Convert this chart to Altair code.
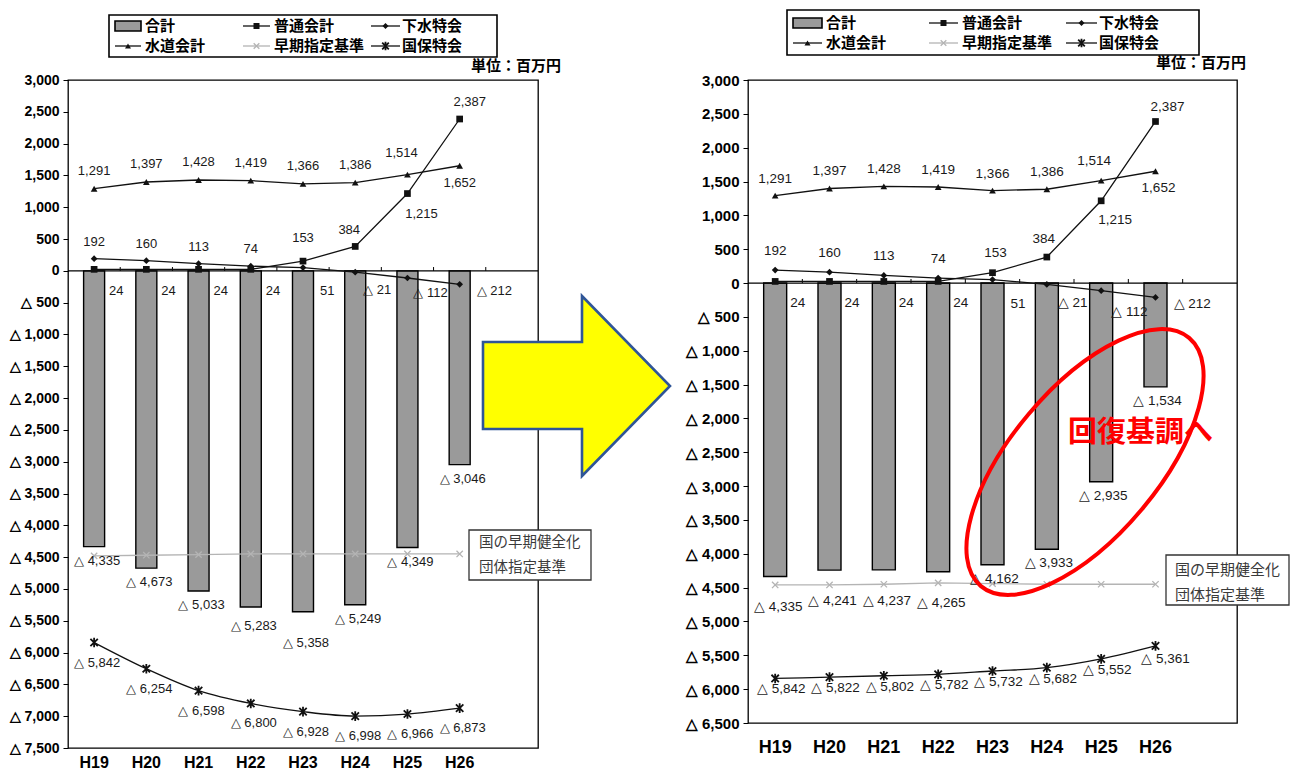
import altair as alt
import pandas as pd

# ---------------- data ----------------
years = ["H19", "H20", "H21", "H22", "H23", "H24", "H25", "H26"]
futsu = [24, 24, 24, 24, 153, 384, 1215, 2387]            # 普通会計
gesui = [192, 160, 113, 74, 51, -21, -112, -212]           # 下水特会
suido = [1291, 1397, 1428, 1419, 1366, 1386, 1514, 1652]   # 水道会計
total_before = [-4335, -4673, -5033, -5283, -5358, -5249, -4349, -3046]
total_after = [-4335, -4241, -4237, -4265, -4162, -3933, -2935, -1534]
kokuho_before = [-5842, -6254, -6598, -6800, -6928, -6998, -6966, -6873]
kokuho_after = [-5842, -5822, -5802, -5782, -5732, -5682, -5552, -5361]
kijun_before = [-4480, -4470, -4460, -4450, -4450, -4450, -4450, -4450]
kijun_after = [-4460, -4460, -4450, -4430, -4440, -4450, -4450, -4450]

legend_labels = ["合計", "普通会計", "下水特会", "水道会計", "早期指定基準", "国保特会"]
unit_text = "単位：百万円"
box_lines = ["国の早期健全化", "団体指定基準"]
callout = "回復基調へ"

# ---------------- style ----------------
NUM = "Liberation Sans, Arial, sans-serif"
JP = "Noto Sans CJK JP, sans-serif"
BAR_FILL = "#9a9a9a"
STAR = "M-1,-1L1,1M-1,1L1,-1M0,-1.3L0,1.3"
XMARK = "M-1,-1L1,1M-1,1L1,-1"
STYLE = {
    "普通会計": dict(color="#111111", shape="square", size=45, filled=True, sw=1),
    "下水特会": dict(color="#111111", shape="diamond", size=45, filled=True, sw=1),
    "水道会計": dict(color="#111111", shape="triangle-up", size=45, filled=True, sw=1),
    "早期指定基準": dict(color="#b4b4b4", shape=XMARK, size=40, filled=False, sw=1.3),
    "国保特会": dict(color="#111111", shape=STAR, size=55, filled=False, sw=1.8),
}

one = pd.DataFrame({"k": [0]})


def fmt(v):
    return f"{v:,}" if v >= 0 else f"△ {-v:,}"


def panel(total, kokuho, kijun, ymin, W, H, geo):
    rows = []
    for name, vals in [("合計", total), ("普通会計", futsu), ("下水特会", gesui),
                       ("水道会計", suido), ("早期指定基準", kijun), ("国保特会", kokuho)]:
        for yr, v in zip(years, vals):
            rows.append({"year": yr, "series": name, "value": v, "label": fmt(v)})
    df = pd.DataFrame(rows)

    def sub(name, ys=None):
        d = df[df.series == name]
        if ys is not None:
            d = d[d.year.isin(ys)]
        return d

    X = alt.X("year:N",
              scale=alt.Scale(type="band", domain=years + [" "], paddingInner=0, paddingOuter=0),
              axis=alt.Axis(title=None, domain=False, ticks=False, labelAngle=0, labelFont=NUM,
                            labelFontSize=geo["xfs"], labelFontWeight="bold", labelColor="black",
                            labelPadding=geo["xpad"]))
    Y = alt.Y("value:Q",
              scale=alt.Scale(domain=[ymin, 3000], nice=False, zero=False),
              axis=alt.Axis(title=None, values=list(range(3000, ymin - 1, -500)), grid=False,
                            domain=False, ticks=True, tickColor="black", tickSize=5, tickWidth=1,
                            labelOverlap=False, labelBound=False, labelFlush=False,
                            labelExpr="datum.value < 0 ? '△ ' + format(-datum.value, ',') : format(datum.value, ',')",
                            labelFont=NUM, labelFontSize=geo["yfs"], labelFontWeight="bold",
                            labelColor="black", labelPadding=4))

    layers = []
    # bars
    layers.append(alt.Chart(sub("合計")).mark_bar(size=geo["bar"], fill=BAR_FILL, stroke="black",
                                                  strokeWidth=1.4).encode(x=X, y=Y, y2=alt.Y2(datum=0)))
    # zero line and small ticks between categories
    zero = pd.DataFrame({"value": [0]})
    layers.append(alt.Chart(zero).mark_rule(color="black", strokeWidth=1.3).encode(y=Y))
    bnd = pd.DataFrame({"year": years[1:] + [" "], "value": 0})
    layers.append(alt.Chart(bnd).mark_rule(color="black", strokeWidth=1).encode(
        x=alt.X("year:N", bandPosition=0), y=Y, y2=alt.Y2(datum=geo["tick"])))
    # lines
    for name in ["早期指定基準", "国保特会", "水道会計", "下水特会", "普通会計"]:
        st = STYLE[name]
        base = alt.Chart(sub(name))
        interp = "monotone" if name == "国保特会" else "linear"
        layers.append(base.mark_line(color=st["color"], strokeWidth=1.3, interpolate=interp).encode(x=X, y=Y))
        layers.append(base.mark_point(shape=st["shape"], size=st["size"], filled=st["filled"],
                                      color=st["color"], opacity=1, strokeWidth=st["sw"]).encode(x=X, y=Y))
    # value labels
    for (name, ys, dx, dy, align, at_zero) in geo["labels"]:
        d = sub(name, ys)
        if at_zero:
            d = d.assign(value=0)
        layers.append(alt.Chart(d).mark_text(
            dx=dx, dy=dy, align=align, baseline="middle", font=NUM, fontSize=geo["lfs"],
            color="#1a1a1a").encode(x=X, y=Y, text="label:N"))

    # legend (drawn in pixel space above the plot)
    bx1, bx2, by1, by2 = geo["lgbox"]
    layers.append(alt.Chart(one).mark_rect(fill="white", stroke="black", strokeWidth=1.6).encode(
        x=alt.value(bx1), x2=alt.value(bx2), y=alt.value(by1), y2=alt.value(by2)))
    cols = geo["lgcols"]
    rowsy = geo["lgrows"]
    for i, name in enumerate(legend_labels):
        r, c = divmod(i, 3)
        lx1, lx2, tx = cols[c]
        yy = rowsy[r]
        if name == "合計":
            layers.append(alt.Chart(one).mark_rect(fill=BAR_FILL, stroke="black", strokeWidth=1.6).encode(
                x=alt.value(lx1), x2=alt.value(lx2), y=alt.value(yy - 5), y2=alt.value(yy + 5)))
        else:
            st = STYLE[name]
            layers.append(alt.Chart(one).mark_rule(color=st["color"], strokeWidth=1.3).encode(
                x=alt.value(lx1), x2=alt.value(lx2), y=alt.value(yy)))
            layers.append(alt.Chart(one).mark_point(shape=st["shape"], size=st["size"] * 0.8,
                                                    filled=st["filled"], color=st["color"], opacity=1,
                                                    strokeWidth=st["sw"]).encode(
                x=alt.value((lx1 + lx2) / 2), y=alt.value(yy)))
        layers.append(alt.Chart(one).mark_text(align="left", baseline="middle", font=JP, fontSize=15,
                                               fontWeight="bold", color="black").encode(
            x=alt.value(tx), y=alt.value(yy), text=alt.value(name)))
    # unit
    ux, uy = geo["unit"]
    layers.append(alt.Chart(one).mark_text(align="right", baseline="middle", font=JP, fontSize=15,
                                           fontWeight="bold", color="black").encode(
        x=alt.value(ux), y=alt.value(uy), text=alt.value(unit_text)))
    # standard box
    qx1, qx2, qy1, qy2, qtx, ql1, ql2, qfs = geo["box"]
    layers.append(alt.Chart(one).mark_rect(fill="white", stroke="#333333", strokeWidth=1.3).encode(
        x=alt.value(qx1), x2=alt.value(qx2), y=alt.value(qy1), y2=alt.value(qy2)))
    for txt, ly in zip(box_lines, [ql1, ql2]):
        layers.append(alt.Chart(one).mark_text(align="left", baseline="middle", font=JP, fontSize=qfs,
                                               color="#3a3a3a").encode(
            x=alt.value(qtx), y=alt.value(ly), text=alt.value(txt)))

    # extras
    if geo.get("arrow"):
        layers.append(alt.Chart(one).mark_point(shape=geo["arrow"], size=4, filled=True, fill="#FFFF00",
                                                stroke="#2F5597", strokeWidth=2.6, opacity=1).encode(
            x=alt.value(0), y=alt.value(0)))
    if geo.get("ellipse"):
        ex, ey, ea, eb, ang = geo["ellipse"]
        path = f"M0,{-ea}A{eb},{ea},0,1,1,0,{ea}A{eb},{ea},0,1,1,0,{-ea}Z"
        layers.append(alt.Chart(one).mark_point(shape=path, size=4, filled=False, stroke="#FF0000",
                                                strokeWidth=4, angle=ang, opacity=1).encode(
            x=alt.value(ex), y=alt.value(ey)))
        cx, cy = geo["callout"]
        layers.append(alt.Chart(one).mark_text(align="left", baseline="middle", font=JP, fontSize=29,
                                               fontWeight="bold", color="#FF0000").encode(
            x=alt.value(cx), y=alt.value(cy), text=alt.value(callout)))

    return alt.layer(*layers).properties(width=W, height=H)


ALL = years
geo_left = dict(
    xfs=16, xpad=6, yfs=14, lfs=13, bar=21, tick=60,
    labels=[
        ("水道会計", years[:6], 0, -18, "center", False),
        ("水道会計", ["H25"], -6, -22, "center", False),
        ("水道会計", ["H26"], 0, 17, "center", False),
        ("下水特会", years[:4], 0, -17, "center", False),
        ("普通会計", ["H23"], 0, -23, "center", False),
        ("普通会計", ["H24"], -6, -16, "center", False),
        ("普通会計", ["H25"], 14, 20, "center", False),
        ("普通会計", ["H26"], 10, -17, "center", False),
        ("普通会計", years[:4], 15, 20, "left", True),
        ("下水特会", ["H23", "H26"], 17, 20, "left", True),
        ("下水特会", ["H24"], 8, 19, "left", True),
        ("下水特会", ["H25"], 6, 22, "left", True),
        ("合計", ["H19", "H20", "H21", "H24", "H25", "H26"], 3, 14, "center", False),
        ("合計", ["H22"], 3, 19, "center", False),
        ("合計", ["H23"], 3, 31, "center", False),
        ("国保特会", ALL, 3, 20, "center", False),
    ],
    lgbox=(41, 429, -65, -23),
    lgcols=[(47, 73, 77), (175, 202, 206), (303, 332, 334)],
    lgrows=[-54, -34],
    unit=(493, -14),
    box=(401, 523, 450, 500, 411, 463, 488, 14.5),
    arrow="M415,262L514,262L514,216L602,306L514,396L514,349L415,349Z",
)

geo_right = dict(
    xfs=18, xpad=15, yfs=15, lfs=13.5, bar=23, tick=60,
    labels=[
        ("水道会計", years[:6], 0, -17, "center", False),
        ("水道会計", ["H25"], -7, -20, "center", False),
        ("水道会計", ["H26"], 3, 17, "center", False),
        ("下水特会", years[:4], 0, -19, "center", False),
        ("普通会計", ["H23"], 3, -20, "center", False),
        ("普通会計", ["H24"], -3, -18, "center", False),
        ("普通会計", ["H25"], 14, 19, "center", False),
        ("普通会計", ["H26"], 12, -14, "center", False),
        ("普通会計", years[:4], 15, 20, "left", True),
        ("下水特会", ["H23", "H26"], 18, 21, "left", True),
        ("下水特会", ["H24"], 11, 20, "left", True),
        ("下水特会", ["H25"], 10, 29, "left", True),
        ("合計", years[:4], 3, 31, "center", False),
        ("合計", years[4:], 2, 14, "center", False),
        ("国保特会", years[:7], 6, 11, "center", False),
        ("国保特会", ["H26"], 10, 13, "center", False),
    ],
    lgbox=(39, 451, -70, -25),
    lgcols=[(45, 74, 78), (181, 210, 214), (318, 349, 351)],
    lgrows=[-57, -37],
    unit=(498, -17),
    box=(418, 541, 475, 525, 427, 490, 515, 15),
    ellipse=(337, 382, 162, 74, 40),
    callout=(320, 353),
)

left = panel(total_before, kokuho_before, kijun_before, -7500, 470, 668, geo_left)
right = panel(total_after, kokuho_after, kijun_after, -6500, 489, 643, geo_right)

chart = alt.hconcat(left, right, spacing=210, bounds="flush").properties(
    padding=0, background="white"
).configure_view(stroke="black", strokeWidth=1.3)

chart.save("out.html", embed_options={"renderer": "svg", "actions": False})
